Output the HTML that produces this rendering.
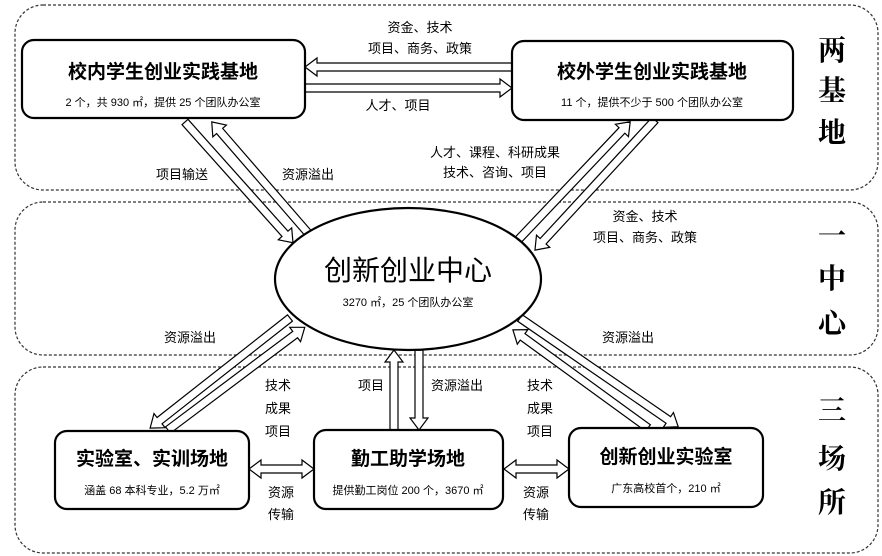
<!DOCTYPE html>
<html><head><meta charset="utf-8"><style>
html,body{margin:0;padding:0;background:#fff;}
svg{display:block;font-family:"Liberation Sans","Noto Sans CJK SC",sans-serif;}
</style></head><body>
<svg width="882" height="556" viewBox="0 0 882 556" xmlns="http://www.w3.org/2000/svg">
<g fill="none" stroke="#333" stroke-width="1.2" stroke-dasharray="3,2">
<rect x="15" y="5" width="863" height="185" rx="28"/>
<rect x="15" y="202" width="863" height="153" rx="28"/>
<rect x="15" y="367" width="863" height="186" rx="28"/>
</g>
<g fill="#fff" stroke="#000" stroke-width="1.2">
<polygon transform="translate(512,67) rotate(180)" points="0,-4 195,-4 195,-9 207,0 195,9 195,4 0,4"/>
<polygon transform="translate(305,88)" points="0,-4 195,-4 195,-9 207,0 195,9 195,4 0,4"/>
<polygon transform="translate(185,122) rotate(48.2)" points="0,-4 150,-4 150,-9 162,0 150,9 150,4 0,4"/>
<polygon transform="translate(308,233) rotate(-130.9)" points="0,-4 135,-4 135,-9 147,0 135,9 135,4 0,4"/>
<polygon transform="translate(518,240) rotate(-46.5)" points="0,-4 151,-4 151,-9 163,0 151,9 151,4 0,4"/>
<polygon transform="translate(655,120) rotate(132.7)" points="0,-4 165,-4 165,-9 177,0 165,9 165,4 0,4"/>
<polygon transform="translate(290,318) rotate(141.8)" points="0,-4 166,-4 166,-9 178,0 166,9 166,4 0,4"/>
<polygon transform="translate(168,430) rotate(-36.9)" points="0,-4 159,-4 159,-9 171,0 159,9 159,4 0,4"/>
<polygon transform="translate(520,318) rotate(34.5)" points="0,-4 180,-4 180,-9 192,0 180,9 180,4 0,4"/>
<polygon transform="translate(648,428) rotate(-144)" points="0,-4 155,-4 155,-9 167,0 155,9 155,4 0,4"/>
<polygon transform="translate(394,430) rotate(-90)" points="0,-4 68,-4 68,-9 80,0 68,9 68,4 0,4"/>
<polygon transform="translate(419,350) rotate(90)" points="0,-4 68,-4 68,-9 80,0 68,9 68,4 0,4"/>
<polygon transform="translate(249,469)" points="0,0 12,-9 12,-4 53,-4 53,-9 65,0 53,9 53,4 12,4 12,9"/>
<polygon transform="translate(504,469)" points="0,0 12,-9 12,-4 53,-4 53,-9 65,0 53,9 53,4 12,4 12,9"/>
</g>
<g fill="#fff" stroke="#000" stroke-width="2.2">
<rect x="22" y="40" width="283" height="78" rx="12"/>
<rect x="512" y="41" width="281" height="79" rx="12"/>
<ellipse cx="408" cy="279" rx="133" ry="71"/>
<rect x="55" y="431" width="194" height="78" rx="12"/>
<rect x="314" y="430" width="189" height="79" rx="12"/>
<rect x="569" y="428" width="194" height="79" rx="12"/>
</g>
<g text-anchor="middle" fill="#000">
<text x="163" y="78" font-size="19" font-weight="bold">校内学生创业实践基地</text>
<text x="163" y="106" font-size="11">2 个，共 930 ㎡，提供 25 个团队办公室</text>
<text x="652" y="78" font-size="19" font-weight="bold">校外学生创业实践基地</text>
<text x="652" y="106" font-size="11">11 个，提供不少于 500 个团队办公室</text>
<text x="408" y="280" font-size="28">创新创业中心</text>
<text x="408" y="306" font-size="11">3270 ㎡，25 个团队办公室</text>
<text x="152" y="465" font-size="19" font-weight="bold">实验室、实训场地</text>
<text x="152" y="494" font-size="11">涵盖 68 本科专业，5.2 万㎡</text>
<text x="408" y="465" font-size="19" font-weight="bold">勤工助学场地</text>
<text x="408" y="494" font-size="11">提供勤工岗位 200 个，3670 ㎡</text>
<text x="666" y="463" font-size="19" font-weight="bold">创新创业实验室</text>
<text x="666" y="492" font-size="11">广东高校首个，210 ㎡</text>
<g font-size="13">
<text x="420" y="32">资金、技术</text>
<text x="420" y="53">项目、商务、政策</text>
<text x="398" y="110">人才、项目</text>
<text x="495" y="157">人才、课程、科研成果</text>
<text x="495" y="177">技术、咨询、项目</text>
<text x="182" y="179">项目输送</text>
<text x="308" y="179">资源溢出</text>
<text x="645" y="221">资金、技术</text>
<text x="645" y="242">项目、商务、政策</text>
<text x="190" y="342">资源溢出</text>
<text x="628" y="342">资源溢出</text>
<text x="278" y="390">技术</text><text x="278" y="413">成果</text><text x="278" y="436">项目</text>
<text x="540" y="390">技术</text><text x="540" y="413">成果</text><text x="540" y="436">项目</text>
<text x="371" y="390">项目</text>
<text x="457" y="390">资源溢出</text>
<text x="281" y="497">资源</text><text x="281" y="519">传输</text>
<text x="536" y="497">资源</text><text x="536" y="519">传输</text>
</g>
<g font-size="28" font-family="'Liberation Serif','Noto Serif CJK SC',serif" font-weight="bold">
<text x="832" y="60">两</text><text x="832" y="100">基</text><text x="832" y="142">地</text>
<text x="832" y="245">一</text><text x="832" y="288">中</text><text x="832" y="333">心</text>
<text x="832" y="420">三</text><text x="832" y="468">场</text><text x="832" y="512">所</text>
</g>
</g>
</svg>
</body></html>
